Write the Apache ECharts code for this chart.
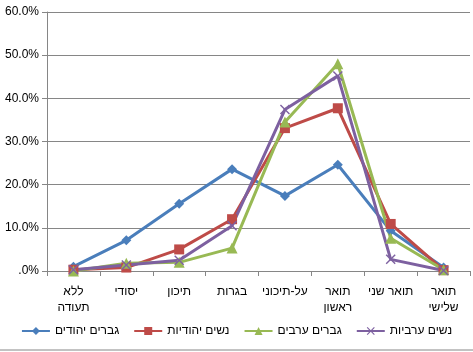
<!DOCTYPE html>
<html>
<head>
<meta charset="utf-8">
<script src="https://cdn.jsdelivr.net/npm/echarts@6/dist/echarts.min.js"></script>
<style>
  html, body { margin: 0; padding: 0; background: #fff; }
  #chart { width: 473px; height: 352px; }
</style>
</head>
<body>
<div id="chart"></div>
<script>
// education levels, left to right as in the picture
var categories = ['ללא\nתעודה', 'יסודי', 'תיכון', 'בגרות', 'על-תיכוני', 'תואר\nראשון', 'תואר שני', 'תואר\nשלישי'];
var seriesNames = ['גברים יהודים', 'נשים יהודיות', 'גברים ערבים', 'נשים ערביות'];

// percent values
var jewishMen = [1.0, 7.1, 15.6, 23.6, 17.4, 24.6, 9.3, 0.8];
var jewishWomen = [0.3, 0.8, 5.0, 12.0, 33.1, 37.7, 10.9, 0.2];
var arabMen = [0.0, 1.8, 2.0, 5.3, 34.5, 48.0, 7.6, 0.3];
var arabWomen = [0.3, 1.4, 2.5, 10.5, 37.4, 45.2, 2.7, 0.1];

var yTicks = { min: 0, max: 60, interval: 10 };

var colors = ['#4A7EBB', '#BE4B48', '#98B954', '#7D60A0'];
var symbols = [
    'diamond',
    'rect',
    'triangle',
    'path://M0,1 L1,0 L5,4 L9,0 L10,1 L6,5 L10,9 L9,10 L5,6 L1,10 L0,9 L4,5 Z'
];
var symbolSizes = [10, 10, 11, 10];
var allData = [jewishMen, jewishWomen, arabMen, arabWomen];

var chart = echarts.init(document.getElementById('chart'));

var series = allData.map(function (d, i) {
    return {
        name: seriesNames[i],
        type: 'line',
        data: d,
        symbol: symbols[i],
        symbolSize: symbolSizes[i],
        showAllSymbol: true,
        lineStyle: { width: 3, color: colors[i] },
        itemStyle: { color: colors[i] },
        emphasis: { disabled: true },
        animation: false
    };
});

chart.setOption({
    color: colors,
    textStyle: { fontFamily: 'Liberation Sans, Arial, sans-serif' },
    grid: { left: 47, right: 3, top: 12, bottom: 81 },
    xAxis: {
        type: 'category',
        data: categories,
        boundaryGap: true,
        axisLine: { lineStyle: { color: '#868686', width: 1 } },
        axisTick: { show: true, length: 5, alignWithLabel: false, lineStyle: { color: '#868686' } },
        axisLabel: { color: '#000', fontSize: 12, lineHeight: 16, margin: 13, interval: 0 }
    },
    yAxis: {
        type: 'value',
        min: yTicks.min,
        max: yTicks.max,
        interval: yTicks.interval,
        axisLine: { show: true, lineStyle: { color: '#868686' } },
        axisTick: { show: true, length: 5, lineStyle: { color: '#868686' } },
        splitLine: { lineStyle: { color: '#868686', width: 1 } },
        axisLabel: {
            color: '#000',
            fontSize: 12,
            margin: 8,
            formatter: function (v) { return v === 0 ? '.0%' : v.toFixed(1) + '%'; }
        }
    },
    legend: {
        data: seriesNames,
        bottom: 10,
        left: 'center',
        itemWidth: 28,
        itemHeight: 10,
        itemGap: 14,
        textStyle: { color: '#000', fontSize: 12 }
    },
    graphic: [{
        type: 'line',
        shape: { x1: 0, y1: 350, x2: 473, y2: 350 },
        style: { stroke: '#868686', lineWidth: 1 }
    }],
    series: series
});
</script>
</body>
</html>
